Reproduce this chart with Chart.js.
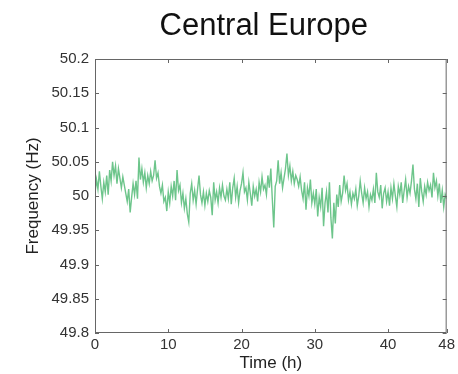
<!DOCTYPE html>
<html>
<head>
<meta charset="utf-8">
<script src="https://cdn.jsdelivr.net/npm/chart.js@4.4.0/dist/chart.umd.min.js"></script>
<style>
  html, body { margin: 0; padding: 0; background: #fff; }
</style>
</head>
<body>
<canvas id="chart" width="458" height="374"></canvas>
<script>
// --- data ---
const titleText = 'Central Europe';
const sampleStep = 0.2; // hours between samples
const frequency = [
  50.004, 50.024, 50.010, 50.036, 50.014, 49.996, 50.020, 50.006, 50.030, 50.002,
  50.038, 50.022, 50.050, 50.030, 50.044, 50.018, 50.040, 50.026, 50.012, 50.028,
  50.016, 50.004, 49.992, 50.010, 49.976, 49.998, 50.018, 50.002, 50.022, 49.996,
  50.056, 50.024, 50.040, 50.020, 50.034, 50.012, 50.030, 50.018, 50.036, 50.022,
  50.030, 50.052, 50.026, 50.034, 50.014, 50.004, 50.016, 49.992, 49.998, 49.978,
  50.006, 49.990, 50.014, 50.000, 50.022, 49.994, 50.038, 50.008, 50.016, 49.990,
  50.004, 49.982, 49.996, 49.974, 49.962, 50.004, 50.018, 49.994, 50.008, 49.988,
  50.010, 50.030, 50.002, 49.990, 50.006, 49.986, 50.004, 49.992, 50.008, 49.998,
  49.972, 50.020, 49.994, 50.006, 49.990, 50.012, 49.998, 50.016, 50.000, 49.994,
  50.010, 49.996, 50.020, 49.988, 50.012, 50.026, 49.998, 50.014, 49.990, 50.008,
  50.018, 50.034, 50.006, 50.012, 49.994, 50.020, 50.004, 49.986, 50.014, 50.000,
  50.010, 49.992, 50.020, 50.006, 50.028, 50.010, 50.016, 50.002, 50.030, 50.012,
  50.040, 49.996, 49.954, 50.014, 50.022, 50.052, 50.018, 50.034, 50.012, 50.026,
  50.040, 50.062, 50.030, 50.044, 50.022, 50.036, 50.018, 50.030, 50.024, 50.014,
  50.028, 50.008, 49.996, 50.020, 49.980, 50.012, 50.000, 50.024, 49.990, 50.004,
  49.988, 50.010, 49.970, 49.998, 49.984, 50.012, 49.956, 49.990, 50.006, 49.976,
  50.020, 49.968, 49.938, 49.990, 49.960, 50.002, 49.984, 50.016, 49.992, 50.004,
  50.030, 50.008, 50.018, 49.994, 50.006, 49.988, 50.004, 49.996, 50.010, 49.986,
  50.000, 50.022, 50.004, 49.990, 50.012, 49.996, 50.006, 49.984, 50.002, 49.994,
  50.010, 49.990, 50.034, 50.006, 49.998, 50.016, 49.982, 50.004, 50.012, 49.992,
  50.006, 49.986, 50.012, 49.996, 50.018, 50.000, 49.984, 50.014, 50.002, 50.020,
  49.990, 50.008, 50.024, 49.998, 50.014, 50.004, 50.022, 50.046, 50.010, 49.996,
  50.018, 49.984, 50.026, 50.006, 49.992, 50.014, 50.002, 50.020, 50.008, 50.016,
  49.998, 50.034, 50.012, 50.022, 50.000, 50.018, 49.990, 50.008, 49.984, 50.002,
  49.996
];
const xTicks = [0, 10, 20, 30, 40, 48];
const yTicks = [49.8, 49.85, 49.9, 49.95, 50, 50.05, 50.1, 50.15, 50.2];

const points = frequency.map((f, i) => ({ x: i * sampleStep, y: f }));

const FONT = '"Liberation Sans", Arial, Helvetica, sans-serif';

// box + inward tick marks (MATLAB style) and the title
const framePlugin = {
  id: 'frame',
  afterDraw(chart) {
    const { ctx, chartArea: a, scales } = chart;
    ctx.save();
    ctx.strokeStyle = '#666';
    ctx.lineWidth = 1;
    ctx.strokeRect(a.left + 0.5, a.top + 0.5, a.right - a.left - 1, a.bottom - a.top - 1);
    ctx.beginPath();
    scales.x.ticks.forEach(t => {
      const px = Math.round(scales.x.getPixelForValue(t.value)) + 0.5;
      ctx.moveTo(px, a.bottom); ctx.lineTo(px, a.bottom - 4);
      ctx.moveTo(px, a.top); ctx.lineTo(px, a.top + 4);
    });
    scales.y.ticks.forEach(t => {
      const py = Math.round(scales.y.getPixelForValue(t.value)) + 0.5;
      ctx.moveTo(a.left, py); ctx.lineTo(a.left + 4, py);
      ctx.moveTo(a.right, py); ctx.lineTo(a.right - 4, py);
    });
    ctx.stroke();

    ctx.fillStyle = '#111';
    ctx.font = '31px ' + FONT;
    ctx.textAlign = 'center';
    ctx.textBaseline = 'middle';
    ctx.fillText(titleText, (a.left + a.right) / 2 - 7, 26);
    ctx.restore();
  }
};

new Chart(document.getElementById('chart'), {
  type: 'line',
  data: {
    datasets: [{
      data: points,
      borderColor: 'rgba(60, 178, 100, 0.75)',
      borderWidth: 1.4,
      pointRadius: 0,
      tension: 0
    }]
  },
  options: {
    responsive: false,
    animation: false,
    layout: { padding: { top: 59, right: 11, left: 0, bottom: 0 } },
    plugins: { legend: { display: false }, tooltip: { enabled: false } },
    scales: {
      x: {
        type: 'linear',
        min: 0,
        max: 48,
        afterBuildTicks: s => { s.ticks = xTicks.map(v => ({ value: v })); },
        afterFit: s => { s.height = 41; },
        grid: { display: false, drawTicks: false },
        border: { display: false },
        ticks: { padding: 3, color: '#333', font: { family: FONT, size: 15 }, maxRotation: 0, autoSkip: false },
        title: { display: true, text: 'Time (h)', color: '#222', font: { family: FONT, size: 17 }, padding: { top: 0, bottom: 0 } }
      },
      y: {
        min: 49.8,
        max: 50.2,
        afterBuildTicks: s => { s.ticks = yTicks.map(v => ({ value: v })); },
        afterFit: s => { s.width = 95; },
        grid: { display: false, drawTicks: false },
        border: { display: false },
        ticks: {
          padding: 6, color: '#333', font: { family: FONT, size: 15 }, autoSkip: false,
          callback: v => String(+Number(v).toFixed(2))
        },
        title: { display: true, text: 'Frequency (Hz)', color: '#222', font: { family: FONT, size: 17 }, padding: { top: 23, bottom: 0 } }
      }
    }
  },
  plugins: [framePlugin]
});
</script>
</body>
</html>
